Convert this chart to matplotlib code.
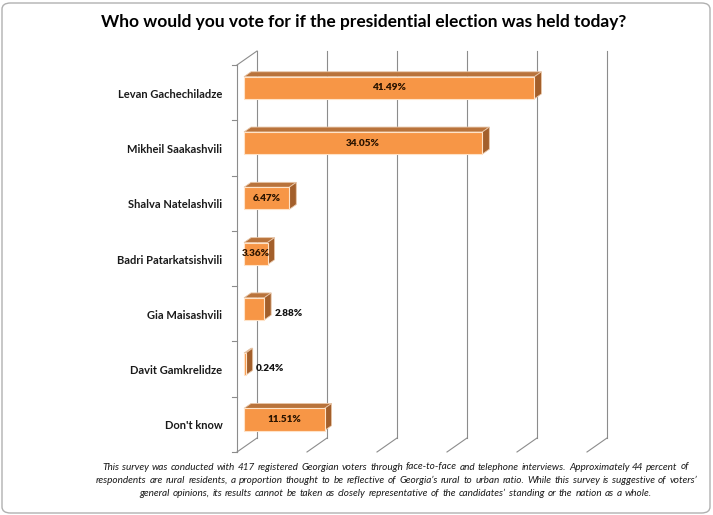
import matplotlib
matplotlib.use("Agg")
import matplotlib.pyplot as plt
from matplotlib.patches import Polygon, FancyBboxPatch

candidates = ["Levan Gachechiladze", "Mikheil Saakashvili", "Shalva Natelashvili",
              "Badri Patarkatsishvili", "Gia Maisashvili", "Davit Gamkrelidze", "Don't know"]
shares = [41.49, 34.05, 6.47, 3.36, 2.88, 0.24, 11.51]
grid_ticks = [0, 10, 20, 30, 40, 50]

title = "Who would you vote for if the presidential election was held today?"
note_lines = [
    "This survey was conducted with 417 registered Georgian voters through face-to-face and telephone interviews. Approximately 44 percent of",
    "respondents are rural residents, a proportion thought to be reflective of Georgia\u2019s rural to urban ratio. While this survey is suggestive of voters\u2019",
    "general opinions, its results cannot be taken as closely representative of the candidates\u2019 standing or the nation as a whole.",
]

FRONT = "#F79646"
TOP = "#B9733B"
SIDE = "#A35F2B"
GRID = "#8C8C8C"

# 3-D depth of the plot box in data units (x in %, y in category units)
DX, DY = 2.857, -0.253
B0, B1 = 0.35, 0.70   # bar depth span, as fraction of the box depth
BH = 0.4

fig = plt.figure(figsize=(7.13, 5.15), dpi=100)
ax = fig.add_axes([230 / 713, 55 / 515, 420 / 713, 420 / 515])
ax.set_xlim(-1, 59)
ax.set_ylim(6.645, -0.952)
ax.axis("off")

n = len(candidates)
ytop, ybot = -0.5, n - 0.5

# back wall gridlines and floor diagonals
for g in grid_ticks:
    ax.plot([g + DX, g + DX], [ybot + DY, ytop + DY], color=GRID, lw=0.8, zorder=1)
    ax.plot([g, g + DX], [ybot, ybot + DY], color=GRID, lw=0.8, zorder=1)
# left wall
ax.plot([0, 0], [ybot, ytop], color=GRID, lw=0.8, zorder=1)
ax.plot([0, DX], [ytop, ytop + DY], color=GRID, lw=0.8, zorder=1)
for k in range(n + 1):
    ax.plot([-0.7, 0], [ytop + k, ytop + k], color=GRID, lw=0.8, zorder=1)

# bars: front face, top face, side face
ox, oy = B0 * DX, B0 * DY
ddx, ddy = (B1 - B0) * DX, (B1 - B0) * DY
ys = list(range(n))
ax.barh([y + oy for y in ys], shares, height=BH, left=ox, color=FRONT,
        edgecolor="#FFE3C8", linewidth=0.8, zorder=3)
for y, v in zip(ys, shares):
    yt = y + oy - BH / 2
    yb = y + oy + BH / 2
    x0, x1 = ox, ox + v
    ax.add_patch(Polygon([(x0, yt), (x1, yt), (x1 + ddx, yt + ddy), (x0 + ddx, yt + ddy)],
                         closed=True, facecolor=TOP, edgecolor="#E8C6A8", lw=0.6, zorder=2))
    ax.add_patch(Polygon([(x1, yt), (x1 + ddx, yt + ddy), (x1 + ddx, yb + ddy), (x1, yb)],
                         closed=True, facecolor=SIDE, edgecolor="#E8C6A8", lw=0.6, zorder=2))
    label = f"{v:.2f}%"
    if v >= 3:
        ax.text(ox + v / 2, y + oy, label, ha="center", va="center", fontsize=7.2,
                fontweight="heavy", family="Lato", color="#2B1400", zorder=4)
    else:
        ax.text(ox + v + ddx + 0.45, y + oy + 0.08, label, ha="left", va="center", fontsize=7.2,
                fontweight="heavy", family="Lato", color="#111111", zorder=4)
    ax.text(-2.1, y + 0.03, candidates[y], ha="right", va="center", fontsize=8,
            fontweight="bold", family="Lato", color="#1A1A1A")

fig.text(364 / 713, 1 - 22 / 515, title, ha="center", va="center", fontsize=12.5,
         fontweight="bold", family="Lato", color="#000000")

# footnote: words spread over the measured width of each line
renderer = fig.canvas.get_renderer()
spans = [(102, 689), (96, 697), (139, 652)]
note_kw = dict(fontsize=7.2, style="italic", family="Lato", color="#1A1A1A", va="center")
for i, line in enumerate(note_lines):
    yfig = 1 - (467 + 13.3 * i) / 515
    words = line.split(" ")
    texts = [fig.text(0, yfig, w, ha="left", **note_kw) for w in words]
    widths = [t.get_window_extent(renderer).width for t in texts]
    left, right = spans[i]
    gap = (right - left - sum(widths)) / (len(words) - 1)
    x = left
    for t, w in zip(texts, widths):
        t.set_x(x / 713)
        x += w + gap

fig.patches.append(FancyBboxPatch((2 / 713, 2 / 515), 708 / 713, 510 / 515,
                                  boxstyle="round,pad=0,rounding_size=0.012",
                                  transform=fig.transFigure, facecolor="none",
                                  edgecolor="#B0B0B0", lw=1.0))

fig.savefig("out.png", dpi=100)
